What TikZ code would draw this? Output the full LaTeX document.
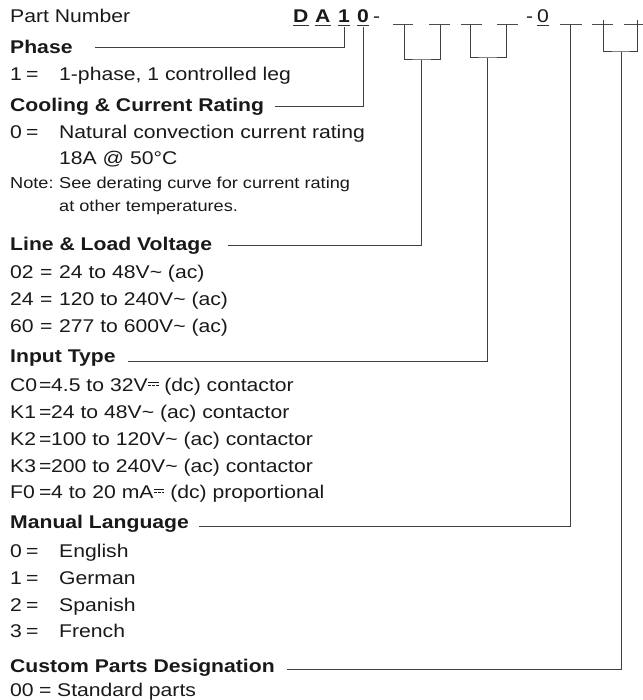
\documentclass[tikz,border=0pt]{standalone}
\usepackage{fontspec}
\setmainfont[FakeStretch=1.15]{Liberation Sans}
\usetikzlibrary{positioning}
% direct current sign: full bar over three dashes
\newcommand{\dcsign}{\kern0.04em\raisebox{0.28em}{\vbox{\hrule width 0.55em height 0.06em \kern0.1em
  \hbox to 0.55em{\vrule width 0.13em height 0.06em\hfil\vrule width 0.13em height 0.06em\hfil\vrule width 0.13em height 0.06em}}}}
% key, equals sign and text on tab stops
\newcommand{\pick}[4]{\makebox[#1][l]{#2}\makebox[#3][l]{=}#4}
\tikzset
{
    txt/.style   = {anchor=base west, inner sep=0pt, text=black!90, font=\fontsize{18.4}{22}\selectfont},
    head/.style  = {txt, font=\fontsize{18.4}{22}\selectfont\bfseries},
    note/.style  = {txt, font=\fontsize{15.8}{19}\selectfont},
    lead/.style  = {line width=1pt, draw=black!75},
    blank/.style = {line width=1pt, draw=black!70},
    uline/.style = {line width=1pt, draw=black!80}
}
\begin{document}
\begin{tikzpicture}[x=1pt, y=-1pt]
	\useasboundingbox (0,0) rectangle (642,700);
	% part number line
	\node (pn) [txt] at (10,23) {Part Number};
	\node (dD) [head] at (293,23) {D};
	\node (dA) [head] at (315,23) {A};
	\node (d1) [head] at (338,23) {1};
	\node (d0) [head] at (357,23) {0};
	\node (dh) [txt] at (373,23) {-};
	\node (rh) [txt] at (526,23) {-};
	\node (r0) [txt] at (537,23) {0};
	\foreach \n in {dD,dA,d1,d0,r0}
		\draw [uline] ([yshift=-2.5pt]\n.base west) -- ([yshift=-2.5pt]\n.base east);
	\foreach \a/\b in {393/413, 429/450, 461/482, 497/518, 560/582, 592/613, 624/645}
		\draw [blank] (\a,25) -- (\b,25);
	\coordinate (u1) at (404,25);
	\coordinate (u2) at (440,25);
	\coordinate (u3) at (470,25);
	\coordinate (u4) at (506,25);
	\coordinate (u5) at (570,25);
	\coordinate (u6) at (603,20);
	\coordinate (u7) at (637,20);

	% phase
	\node (phase) [head] at (10,54) {Phase};
	\node (ph1) [txt] at (10,81) {\pick{16pt}{1}{33pt}{1-phase, 1 controlled leg}};
	% cooling
	\node (cool) [head] at (10,112) {Cooling \& Current Rating};
	\node (cr0) [txt] at (10,139) {\pick{16pt}{0}{33pt}{Natural convection current rating}};
	\node (cr1) [txt] at (59,165) {18A @ 50°C};
	\node (nt1) [note] at (10,189) {\makebox[49pt][l]{Note:}See derating curve for current rating};
	\node (nt2) [note] at (59,212) {at other temperatures.};
	% voltage
	\node (volt) [head] at (10,251) {Line \& Load Voltage};
	\node (v02) [txt] at (10,278) {\pick{30pt}{02}{19pt}{24 to 48V\textasciitilde\ (ac)}};
	\node (v24) [txt] at (10,305) {\pick{30pt}{24}{19pt}{120 to 240V\textasciitilde\ (ac)}};
	\node (v60) [txt] at (10,332) {\pick{30pt}{60}{19pt}{277 to 600V\textasciitilde\ (ac)}};
	% input
	\node (input) [head] at (10,362) {Input Type};
	\node (iC0) [txt] at (10,391) {\pick{29pt}{C0}{12pt}{4.5 to 32V\dcsign\ (dc) contactor}};
	\node (iK1) [txt] at (10,418) {\pick{29pt}{K1}{12pt}{24 to 48V\textasciitilde\ (ac) contactor}};
	\node (iK2) [txt] at (10,445) {\pick{29pt}{K2}{12pt}{100 to 120V\textasciitilde\ (ac) contactor}};
	\node (iK3) [txt] at (10,472) {\pick{29pt}{K3}{12pt}{200 to 240V\textasciitilde\ (ac) contactor}};
	\node (iF0) [txt] at (10,498) {\pick{29pt}{F0}{12pt}{4 to 20 mA\dcsign\ (dc) proportional}};
	% language
	\node (lang) [head] at (10,528) {Manual Language};
	\node (l0) [txt] at (10,557) {\pick{16pt}{0}{33pt}{English}};
	\node (l1) [txt] at (10,584) {\pick{16pt}{1}{33pt}{German}};
	\node (l2) [txt] at (10,611) {\pick{16pt}{2}{33pt}{Spanish}};
	\node (l3) [txt] at (10,637) {\pick{16pt}{3}{33pt}{French}};
	% custom parts
	\node (custom) [head] at (10,672) {Custom Parts Designation};
	\node (std) [txt] at (10,696) {\pick{29pt}{00}{18pt}{Standard parts}};

	% leader lines
	\coordinate (phL) at (95,48);
	\coordinate (coL) at (275,107);
	\coordinate (voL) at (228,246);
	\coordinate (inL) at (128,361);
	\coordinate (laL) at (199,526);
	\coordinate (cuL) at (287,669);
	\coordinate (j1) at (421,60);
	\coordinate (j2) at (487,58);
	\coordinate (j3) at (621,52);
	\draw [lead] ([yshift=-4pt]d1.base) |- (phL);
	\draw [lead] ([yshift=-4pt]d0.base) |- (coL);
	\draw [lead] (u1) |- (j1) -| (u2);
	\draw [lead] (j1) |- (voL);
	\draw [lead] (u3) |- (j2) -| (u4);
	\draw [lead] (j2) |- (inL);
	\draw [lead] (u5) |- (laL);
	\draw [lead] (u6) |- (j3) -| (u7);
	\draw [lead] (j3) |- (cuL);
\end{tikzpicture}
\end{document}
